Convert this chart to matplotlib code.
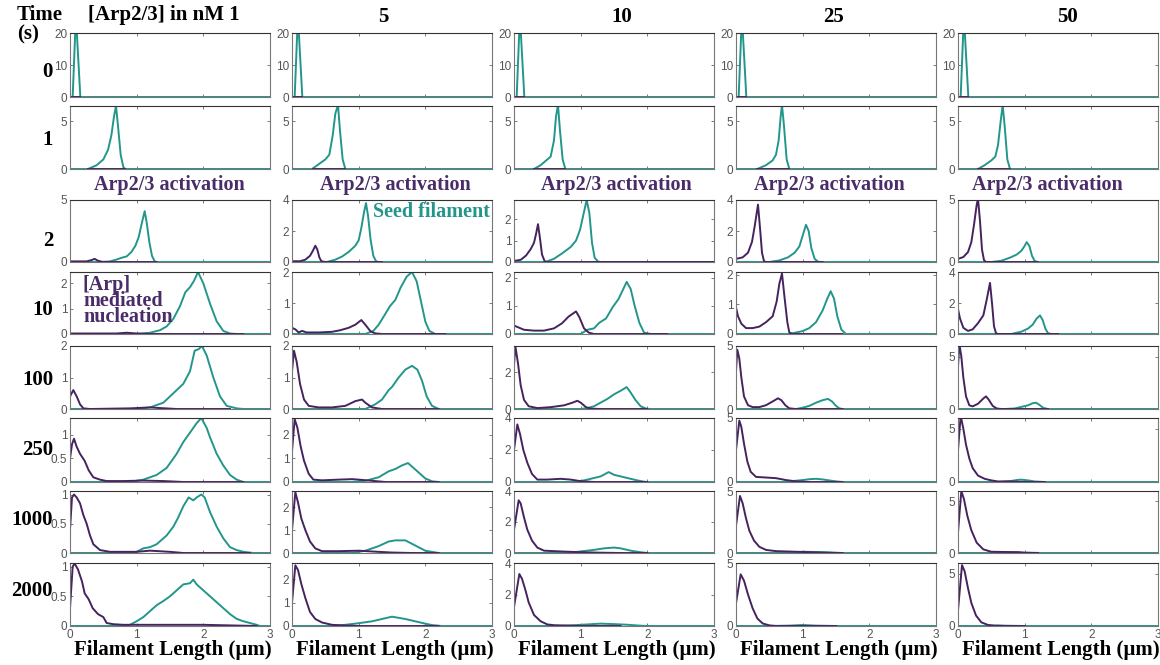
import matplotlib.pyplot as plt

# Arp2/3 concentration (nM) per column, time (s) per row
conc_labels = ['1', '5', '10', '25', '50']
time_labels = ['0', '1', '2', '10', '100', '250', '1000', '2000']

# length distributions, one (length um, density) list per concentration
seed_t0 = [[(0, 0), (0.04, 0), (0.08, 21), (0.1, 21), (0.155, 0), (3, 0)]] * 5
arp_t0 = [[(0.03, 0), (0.15, 0)]] * 5

seed_t1 = [
    [(0, 0), (0.27, 0), (0.4, 0.4), (0.5, 1.0), (0.57, 2.0), (0.62, 3.5), (0.66, 5.5), (0.69, 6.6), (0.72, 4.5), (0.76, 1.5), (0.8, 0.2), (0.83, 0), (3, 0)],
    [(0, 0), (0.3, 0), (0.4, 0.5), (0.5, 1.0), (0.56, 1.5), (0.61, 3.5), (0.65, 5.8), (0.69, 6.7), (0.72, 4.0), (0.76, 1.0), (0.8, 0), (3, 0)],
    [(0, 0), (0.3, 0), (0.4, 0.4), (0.5, 1.0), (0.55, 1.3), (0.6, 3.0), (0.63, 5.5), (0.66, 6.7), (0.69, 4.0), (0.73, 1.0), (0.77, 0), (3, 0)],
    [(0, 0), (0.32, 0), (0.45, 0.4), (0.55, 0.9), (0.6, 1.5), (0.64, 3.0), (0.67, 5.5), (0.69, 6.7), (0.72, 4.5), (0.76, 1.0), (0.8, 0), (3, 0)],
    [(0, 0), (0.3, 0), (0.4, 0.4), (0.5, 0.9), (0.56, 1.3), (0.6, 2.5), (0.64, 5.0), (0.67, 6.7), (0.7, 4.5), (0.74, 1.0), (0.78, 0), (3, 0)],
]
arp_t1 = [
    [(0.27, 0), (0.82, 0)],
    [(0.32, 0), (0.8, 0)],
    [(0.3, 0), (0.77, 0)],
    [(0.32, 0), (0.8, 0)],
    [(0.3, 0), (0.78, 0)],
]

seed_t2 = [
    [(0, 0), (0.5, 0), (0.6, 0.05), (0.7, 0.2), (0.78, 0.35), (0.85, 0.45), (0.92, 0.8), (0.98, 1.3), (1.03, 2.0), (1.08, 3.2), (1.12, 4.1), (1.15, 3.2), (1.19, 1.6), (1.23, 0.5), (1.27, 0.05), (1.3, 0), (3, 0)],
    [(0, 0), (0.52, 0), (0.65, 0.15), (0.75, 0.35), (0.85, 0.65), (0.95, 1.05), (1.0, 1.4), (1.04, 2.2), (1.08, 3.2), (1.11, 3.8), (1.14, 3.0), (1.18, 1.4), (1.22, 0.4), (1.26, 0.05), (1.3, 0), (3, 0)],
    [(0, 0), (0.47, 0), (0.6, 0.15), (0.72, 0.4), (0.85, 0.7), (0.93, 1.0), (0.99, 1.5), (1.04, 2.2), (1.09, 2.9), (1.13, 2.3), (1.17, 0.9), (1.21, 0.2), (1.26, 0.02), (1.3, 0), (3, 0)],
    [(0, 0), (0.5, 0), (0.65, 0.1), (0.78, 0.3), (0.88, 0.6), (0.95, 1.0), (1.0, 1.7), (1.05, 2.4), (1.09, 2.0), (1.13, 0.9), (1.18, 0.2), (1.23, 0.02), (1.28, 0), (3, 0)],
    [(0, 0), (0.5, 0), (0.65, 0.1), (0.78, 0.35), (0.88, 0.6), (0.95, 0.9), (1.0, 1.3), (1.03, 1.6), (1.07, 1.3), (1.11, 0.5), (1.15, 0.08), (1.2, 0), (3, 0)],
]
arp_t2 = [
    [(0, 0.05), (0.25, 0.05), (0.32, 0.15), (0.37, 0.25), (0.42, 0.1), (0.48, 0.02), (0.6, 0), (1.3, 0)],
    [(0, 0.05), (0.12, 0.05), (0.2, 0.15), (0.27, 0.4), (0.31, 0.7), (0.35, 1.05), (0.38, 0.8), (0.41, 0.3), (0.44, 0.05), (0.5, 0), (1.35, 0)],
    [(0, 0.05), (0.1, 0.1), (0.18, 0.3), (0.25, 0.6), (0.3, 0.9), (0.33, 1.3), (0.36, 1.77), (0.39, 1.1), (0.42, 0.35), (0.46, 0.03), (0.5, 0), (3, 0)],
    [(0, 0.2), (0.1, 0.3), (0.18, 0.6), (0.24, 1.3), (0.28, 2.3), (0.33, 3.7), (0.36, 2.2), (0.39, 0.6), (0.42, 0.05), (0.45, 0), (1.3, 0)],
    [(0, 0.25), (0.08, 0.4), (0.15, 0.8), (0.2, 1.6), (0.24, 3.0), (0.28, 4.6), (0.3, 5.1), (0.33, 3.3), (0.36, 1.0), (0.39, 0.15), (0.42, 0), (1.2, 0)],
]

seed_t10 = [
    [(0, 0), (1.0, 0), (1.2, 0.05), (1.35, 0.15), (1.45, 0.3), (1.55, 0.6), (1.65, 1.1), (1.73, 1.65), (1.8, 1.85), (1.86, 2.1), (1.92, 2.45), (2.0, 2.0), (2.1, 1.2), (2.2, 0.5), (2.3, 0.12), (2.4, 0.02), (2.5, 0), (3, 0)],
    [(0, 0), (1.1, 0), (1.22, 0.1), (1.3, 0.3), (1.4, 0.65), (1.47, 0.9), (1.55, 1.1), (1.63, 1.5), (1.72, 1.85), (1.8, 2.0), (1.87, 1.7), (1.94, 1.0), (2.0, 0.4), (2.06, 0.1), (2.15, 0), (3, 0)],
    [(0, 0), (1.0, 0), (1.1, 0.15), (1.2, 0.2), (1.28, 0.4), (1.38, 0.55), (1.48, 0.95), (1.57, 1.25), (1.63, 1.55), (1.69, 1.85), (1.75, 1.6), (1.81, 1.0), (1.88, 0.4), (1.95, 0.05), (2.05, 0), (3, 0)],
    [(0, 0), (0.8, 0), (1.0, 0.1), (1.1, 0.2), (1.2, 0.4), (1.3, 0.8), (1.37, 1.2), (1.42, 1.45), (1.47, 1.2), (1.52, 0.6), (1.58, 0.15), (1.65, 0), (3, 0)],
    [(0, 0), (0.8, 0), (0.95, 0.15), (1.05, 0.35), (1.12, 0.6), (1.18, 1.0), (1.23, 1.2), (1.27, 0.9), (1.31, 0.35), (1.35, 0.05), (1.4, 0), (3, 0)],
]
arp_t10 = [
    [(0, 0.02), (0.7, 0.02), (0.85, 0.05), (1.0, 0.02), (1.2, 0), (2.6, 0)],
    [(0, 0.2), (0.05, 0.15), (0.1, 0.05), (0.15, 0.1), (0.22, 0.05), (0.4, 0.05), (0.6, 0.07), (0.72, 0.12), (0.85, 0.2), (0.95, 0.3), (1.04, 0.45), (1.1, 0.3), (1.18, 0.08), (1.25, 0.02), (1.35, 0), (2.3, 0)],
    [(0, 0.3), (0.05, 0.25), (0.15, 0.15), (0.3, 0.12), (0.45, 0.12), (0.6, 0.2), (0.72, 0.38), (0.82, 0.62), (0.93, 0.8), (0.98, 0.6), (1.05, 0.2), (1.12, 0.05), (1.2, 0), (2.3, 0)],
    [(0, 0.9), (0.03, 0.6), (0.08, 0.35), (0.15, 0.2), (0.25, 0.2), (0.35, 0.25), (0.45, 0.4), (0.55, 0.6), (0.61, 1.1), (0.65, 1.7), (0.69, 2.05), (0.73, 1.2), (0.77, 0.4), (0.8, 0.05), (0.85, 0), (1.6, 0)],
    [(0, 1.6), (0.03, 1.0), (0.08, 0.4), (0.15, 0.2), (0.22, 0.3), (0.3, 0.7), (0.38, 1.2), (0.43, 2.2), (0.48, 3.3), (0.51, 2.0), (0.54, 0.5), (0.57, 0.05), (0.6, 0), (1.5, 0)],
]

seed_t100 = [
    [(0, 0), (1.0, 0), (1.2, 0.05), (1.4, 0.2), (1.5, 0.4), (1.6, 0.6), (1.7, 0.8), (1.8, 1.2), (1.87, 1.85), (1.93, 1.9), (1.98, 2.0), (2.05, 1.7), (2.15, 1.0), (2.25, 0.4), (2.35, 0.1), (2.5, 0.02), (2.6, 0), (3, 0)],
    [(0, 0), (1.1, 0), (1.25, 0.15), (1.35, 0.3), (1.45, 0.6), (1.5, 0.7), (1.6, 1.0), (1.7, 1.25), (1.8, 1.37), (1.88, 1.25), (1.95, 0.9), (2.02, 0.4), (2.1, 0.1), (2.2, 0), (3, 0)],
    [(0, 0), (1.0, 0), (1.1, 0.05), (1.2, 0.15), (1.3, 0.35), (1.4, 0.55), (1.5, 0.8), (1.6, 1.0), (1.69, 1.2), (1.75, 0.9), (1.82, 0.5), (1.9, 0.15), (1.98, 0.02), (2.05, 0), (3, 0)],
    [(0, 0), (0.9, 0), (1.0, 0.1), (1.1, 0.25), (1.2, 0.5), (1.3, 0.7), (1.38, 0.8), (1.44, 0.6), (1.5, 0.25), (1.55, 0.05), (1.6, 0), (3, 0)],
    [(0, 0), (0.7, 0), (0.85, 0.05), (0.95, 0.2), (1.05, 0.35), (1.12, 0.55), (1.17, 0.6), (1.22, 0.4), (1.28, 0.1), (1.35, 0), (3, 0)],
]
arp_t100 = [
    [(0, 0.4), (0.05, 0.6), (0.1, 0.4), (0.15, 0.15), (0.2, 0.02), (0.3, 0), (0.9, 0.02), (1.2, 0.05), (1.35, 0.03), (1.6, 0), (2.4, 0)],
    [(0, 1.2), (0.03, 1.85), (0.07, 1.5), (0.12, 0.8), (0.18, 0.3), (0.25, 0.1), (0.4, 0.05), (0.6, 0.05), (0.8, 0.1), (0.95, 0.25), (1.05, 0.3), (1.1, 0.2), (1.2, 0.05), (1.35, 0), (2.2, 0)],
    [(0, 2.4), (0.02, 3.45), (0.06, 2.5), (0.1, 1.3), (0.15, 0.5), (0.22, 0.15), (0.35, 0.05), (0.55, 0.1), (0.75, 0.2), (0.88, 0.35), (0.95, 0.45), (1.0, 0.35), (1.08, 0.1), (1.15, 0.02), (1.3, 0), (2.0, 0)],
    [(0, 3.0), (0.02, 4.7), (0.05, 4.0), (0.08, 2.5), (0.12, 1.0), (0.18, 0.3), (0.25, 0.15), (0.35, 0.15), (0.45, 0.3), (0.55, 0.6), (0.63, 0.85), (0.68, 0.7), (0.74, 0.3), (0.8, 0.05), (0.9, 0), (1.6, 0)],
    [(0, 4.0), (0.02, 6.2), (0.05, 5.0), (0.08, 3.0), (0.12, 1.2), (0.17, 0.35), (0.22, 0.25), (0.3, 0.5), (0.38, 1.0), (0.42, 1.2), (0.46, 0.9), (0.52, 0.3), (0.58, 0.05), (0.65, 0), (1.35, 0)],
]

seed_t250 = [
    [(0, 0), (0.9, 0), (1.1, 0.05), (1.3, 0.15), (1.4, 0.25), (1.45, 0.3), (1.5, 0.4), (1.6, 0.6), (1.7, 0.85), (1.8, 1.05), (1.9, 1.25), (1.97, 1.36), (2.05, 1.15), (2.1, 0.95), (2.2, 0.6), (2.3, 0.35), (2.4, 0.15), (2.5, 0.05), (2.6, 0), (3, 0)],
    [(0, 0), (0.9, 0), (1.1, 0.05), (1.3, 0.2), (1.45, 0.45), (1.55, 0.55), (1.65, 0.7), (1.74, 0.8), (1.8, 0.65), (1.9, 0.4), (2.0, 0.15), (2.1, 0.03), (2.2, 0), (3, 0)],
    [(0, 0), (0.9, 0), (1.05, 0.1), (1.2, 0.25), (1.3, 0.35), (1.42, 0.62), (1.5, 0.45), (1.6, 0.35), (1.7, 0.25), (1.85, 0.1), (1.95, 0.02), (2.0, 0), (3, 0)],
    [(0, 0), (0.7, 0), (0.9, 0.1), (1.0, 0.15), (1.1, 0.22), (1.2, 0.25), (1.3, 0.2), (1.4, 0.12), (1.5, 0.05), (1.6, 0), (3, 0)],
    [(0, 0), (0.6, 0), (0.8, 0.1), (0.9, 0.2), (0.95, 0.22), (1.05, 0.15), (1.15, 0.05), (1.3, 0), (3, 0)],
]
arp_t250 = [
    [(0, 0.5), (0.03, 0.8), (0.06, 0.92), (0.1, 0.75), (0.15, 0.6), (0.22, 0.45), (0.28, 0.25), (0.35, 0.1), (0.45, 0.05), (0.55, 0.02), (0.8, 0.02), (1.1, 0.03), (1.4, 0.02), (1.7, 0), (2.6, 0)],
    [(0, 1.3), (0.04, 2.65), (0.08, 2.3), (0.13, 1.5), (0.18, 0.9), (0.25, 0.35), (0.32, 0.1), (0.45, 0.07), (0.7, 0.1), (0.9, 0.12), (1.0, 0.1), (1.2, 0.05), (1.4, 0), (2.2, 0)],
    [(0, 2.0), (0.05, 3.6), (0.09, 3.0), (0.14, 2.0), (0.2, 1.2), (0.27, 0.5), (0.35, 0.15), (0.5, 0.15), (0.7, 0.2), (0.85, 0.15), (1.0, 0.05), (1.2, 0), (2.0, 0)],
    [(0, 2.5), (0.05, 4.8), (0.08, 4.3), (0.12, 3.0), (0.17, 1.6), (0.22, 0.8), (0.3, 0.4), (0.45, 0.35), (0.6, 0.3), (0.75, 0.15), (0.9, 0.05), (1.1, 0), (1.6, 0)],
    [(0, 3.0), (0.04, 6.2), (0.08, 5.0), (0.12, 3.5), (0.17, 2.2), (0.22, 1.3), (0.3, 0.6), (0.4, 0.3), (0.5, 0.15), (0.6, 0.05), (0.8, 0.05), (1.0, 0), (1.3, 0)],
]

seed_t1000 = [
    [(0, 0), (0.9, 0), (1.0, 0.02), (1.1, 0.08), (1.2, 0.1), (1.3, 0.15), (1.35, 0.2), (1.4, 0.25), (1.45, 0.3), (1.55, 0.45), (1.62, 0.6), (1.7, 0.8), (1.78, 0.95), (1.85, 0.9), (1.9, 0.95), (1.97, 1.0), (2.02, 0.95), (2.1, 0.7), (2.2, 0.45), (2.3, 0.25), (2.4, 0.1), (2.5, 0.05), (2.6, 0.02), (2.75, 0), (3, 0)],
    [(0, 0), (0.9, 0), (1.1, 0.1), (1.3, 0.3), (1.45, 0.5), (1.55, 0.55), (1.7, 0.55), (1.8, 0.4), (1.9, 0.25), (2.0, 0.1), (2.1, 0.05), (2.2, 0), (3, 0)],
    [(0, 0), (0.8, 0), (1.0, 0.1), (1.2, 0.2), (1.35, 0.3), (1.5, 0.35), (1.6, 0.3), (1.75, 0.15), (1.9, 0.05), (2.0, 0), (3, 0)],
    [(0, 0), (0.6, 0), (0.9, 0.05), (1.0, 0.1), (1.2, 0.08), (1.4, 0.05), (1.6, 0), (3, 0)],
    [(0, 0), (0.7, 0), (0.9, 0.05), (1.1, 0.02), (1.3, 0), (3, 0)],
]
arp_t1000 = [
    [(0, 0.4), (0.03, 0.95), (0.06, 1.0), (0.1, 0.95), (0.15, 0.85), (0.2, 0.65), (0.25, 0.5), (0.3, 0.3), (0.35, 0.15), (0.45, 0.05), (0.6, 0.02), (1.0, 0.02), (1.2, 0.04), (1.5, 0.02), (1.7, 0), (2.7, 0)],
    [(0, 1.0), (0.05, 2.65), (0.09, 2.2), (0.14, 1.5), (0.2, 1.0), (0.27, 0.5), (0.35, 0.2), (0.45, 0.08), (0.7, 0.08), (1.0, 0.1), (1.3, 0.05), (1.5, 0.02), (1.8, 0), (2.2, 0)],
    [(0, 1.5), (0.07, 3.4), (0.1, 3.2), (0.15, 2.3), (0.2, 1.5), (0.27, 0.8), (0.35, 0.35), (0.45, 0.15), (0.7, 0.1), (1.0, 0.05), (1.3, 0.02), (1.6, 0), (2.0, 0)],
    [(0, 2.2), (0.06, 4.6), (0.1, 4.0), (0.15, 2.8), (0.2, 1.8), (0.27, 1.0), (0.35, 0.5), (0.45, 0.25), (0.6, 0.15), (0.9, 0.1), (1.2, 0.05), (1.5, 0), (1.6, 0)],
    [(0, 2.0), (0.05, 6.0), (0.09, 5.2), (0.14, 3.6), (0.2, 2.2), (0.28, 1.0), (0.38, 0.35), (0.5, 0.12), (0.7, 0.1), (0.9, 0.08), (1.0, 0.02), (1.2, 0)],
]

seed_t2000 = [
    [(0, 0), (0.8, 0), (0.9, 0.02), (1.0, 0.08), (1.1, 0.15), (1.2, 0.25), (1.3, 0.35), (1.4, 0.42), (1.5, 0.5), (1.6, 0.6), (1.7, 0.7), (1.8, 0.72), (1.85, 0.78), (1.9, 0.7), (1.95, 0.65), (2.0, 0.6), (2.1, 0.5), (2.2, 0.4), (2.3, 0.3), (2.4, 0.2), (2.5, 0.12), (2.6, 0.08), (2.7, 0.05), (2.8, 0.02), (2.85, 0), (3, 0)],
    [(0, 0), (0.6, 0), (0.8, 0.05), (1.0, 0.12), (1.2, 0.2), (1.35, 0.3), (1.5, 0.4), (1.6, 0.35), (1.7, 0.3), (1.85, 0.2), (2.0, 0.1), (2.1, 0.04), (2.25, 0), (3, 0)],
    [(0, 0), (0.6, 0), (0.9, 0.05), (1.1, 0.1), (1.3, 0.15), (1.5, 0.12), (1.7, 0.08), (1.9, 0.02), (2.0, 0), (3, 0)],
    [(0, 0), (0.5, 0), (0.8, 0.03), (1.0, 0.08), (1.2, 0.03), (1.5, 0), (3, 0)],
    [(0, 0), (0.4, 0), (0.6, 0.05), (0.8, 0.02), (1.0, 0), (3, 0)],
]
arp_t2000 = [
    [(0, 0.3), (0.04, 1.0), (0.07, 1.05), (0.12, 0.95), (0.18, 0.75), (0.22, 0.55), (0.28, 0.45), (0.34, 0.3), (0.42, 0.2), (0.5, 0.15), (0.55, 0.05), (0.65, 0.03), (0.8, 0.02), (1.5, 0.02), (2.0, 0.02), (2.8, 0)],
    [(0, 1.0), (0.05, 2.6), (0.09, 2.4), (0.14, 1.8), (0.2, 1.2), (0.27, 0.6), (0.35, 0.3), (0.45, 0.15), (0.6, 0.05), (0.8, 0.02), (1.0, 0), (2.2, 0)],
    [(0, 1.2), (0.08, 3.3), (0.12, 3.0), (0.17, 2.3), (0.22, 1.5), (0.3, 0.7), (0.4, 0.3), (0.5, 0.1), (0.6, 0.05), (0.8, 0.02), (1.0, 0), (1.6, 0)],
    [(0, 1.8), (0.07, 4.1), (0.12, 3.6), (0.18, 2.5), (0.25, 1.4), (0.32, 0.6), (0.4, 0.2), (0.5, 0.05), (0.6, 0), (1.5, 0)],
    [(0, 1.5), (0.06, 5.8), (0.1, 5.2), (0.15, 3.6), (0.2, 2.2), (0.27, 1.0), (0.35, 0.35), (0.45, 0.1), (0.55, 0.03), (0.7, 0), (1.0, 0)],
]

# y-axis range and ticks for each panel
y_top = [
    [20, 20, 20, 20, 20],
    [6.6, 6.6, 6.6, 6.6, 6.6],
    [5, 4, 2.9, 4, 5],
    [2.45, 2, 2.2, 2.1, 4],
    [2, 2, 3.45, 5, 6],
    [1.36, 2.7, 4, 5, 6],
    [1.06, 2.7, 4, 5, 6],
    [1.06, 2.7, 4, 5, 6],
]
y_ticks = [
    [[0, 10, 20]] * 5,
    [[0, 5]] * 5,
    [[0, 5], [0, 2, 4], [0, 1, 2], [0, 2, 4], [0, 5]],
    [[0, 1, 2], [0, 1, 2], [0, 1, 2], [0, 1, 2], [0, 2, 4]],
    [[0, 1, 2], [0, 1, 2], [0, 2], [0, 5], [0, 5]],
    [[0, 0.5, 1], [0, 1, 2], [0, 2, 4], [0, 5], [0, 5]],
    [[0, 0.5, 1], [0, 1, 2], [0, 2, 4], [0, 5], [0, 5]],
    [[0, 0.5, 1], [0, 1, 2], [0, 2, 4], [0, 5], [0, 5]],
]

seed_rows = [seed_t0, seed_t1, seed_t2, seed_t10, seed_t100, seed_t250, seed_t1000, seed_t2000]
arp_rows = [arp_t0, arp_t1, arp_t2, arp_t10, arp_t100, arp_t250, arp_t1000, arp_t2000]

TEAL = '#23968b'
PURPLE = '#46225f'
LABEL_PURPLE = '#4a2c68'
SERIF = 'Liberation Serif'

W, H = 1160, 665
col_left = [70, 292, 514, 736, 958]
col_w = 200
row_top = [33, 106, 200, 272, 346, 418, 491, 563]
row_bot = [97, 169, 262, 334, 409, 482, 553, 626]


def px(x, y):
    return x / W, 1 - y / H


fig = plt.figure(figsize=(W / 100, H / 100), dpi=100)

for r in range(8):
    for c in range(5):
        ax = fig.add_axes([col_left[c] / W, 1 - row_bot[r] / H,
                           col_w / W, (row_bot[r] - row_top[r]) / H])
        sx, sy = zip(*seed_rows[r][c])
        ax.plot(sx, sy, color=TEAL, lw=1.4)
        axx, axy = zip(*arp_rows[r][c])
        ax.plot(axx, axy, color=PURPLE, lw=1.4)
        ax.set_xlim(0, 3)
        ax.set_ylim(0, y_top[r][c])
        ax.set_xticks([0, 1, 2, 3])
        ax.set_yticks(y_ticks[r][c])
        ax.set_yticklabels([f'{t:g}' for t in y_ticks[r][c]])
        if r < 7:
            ax.set_xticklabels([])
        ax.tick_params(direction='in', top=True, right=True, length=2.5,
                       width=0.6, colors='#666666', labelsize=8.5, pad=2)
        for lab in ax.get_xticklabels() + ax.get_yticklabels():
            lab.set_color('#555555')
            lab.set_fontfamily('Liberation Sans')
        for name, sp in ax.spines.items():
            sp.set_linewidth(0.8)
            sp.set_color('#333333' if name == 'top' else '#777777')

# column headers
fig.text(*px(17, 15), 'Time', fontsize=15, fontweight='bold', family=SERIF, ha='left', va='center')
fig.text(*px(17, 34), '(s)', fontsize=15, fontweight='bold', family=SERIF, ha='left', va='center')
fig.text(*px(88, 15), '[Arp2/3] in nM ' + conc_labels[0], fontsize=15, fontweight='bold',
         family=SERIF, ha='left', va='center')
for c, x in zip(range(1, 5), [383, 622, 833, 1067]):
    fig.text(*px(x, 17), conc_labels[c], fontsize=15, fontweight='bold', family=SERIF,
             ha='center', va='center')

# time labels on the left
row_label_y = [72, 140, 241, 310, 380, 450, 520, 591]
for t, y in zip(time_labels, row_label_y):
    fig.text(*px(53, y), t, fontsize=15, fontweight='bold', family=SERIF,
             ha='right', va='center')

# annotations
for x in [169, 395, 616, 829, 1047]:
    fig.text(*px(x, 185), 'Arp2/3 activation', fontsize=14.5, fontweight='bold',
             family=SERIF, color=LABEL_PURPLE, ha='center', va='center')
fig.text(*px(373, 212), 'Seed filament', fontsize=14.5, fontweight='bold',
         family=SERIF, color=TEAL, ha='left', va='center')
for line, y in zip(['[Arp]', 'mediated', 'nucleation'], [285, 301, 317]):
    fig.text(*px(83, y), line, fontsize=14.5, fontweight='bold', family=SERIF,
             color=LABEL_PURPLE, ha='left', va='center')

# x-axis labels under each column
for c in range(5):
    fig.text(*px(col_left[c] + col_w / 2 + 3, 650), 'Filament Length (µm)', fontsize=15,
             fontweight='bold', family=SERIF, ha='center', va='center',
             bbox=dict(facecolor='white', edgecolor='none', pad=0.5))

fig.savefig('out.png', dpi=100, facecolor='white')
